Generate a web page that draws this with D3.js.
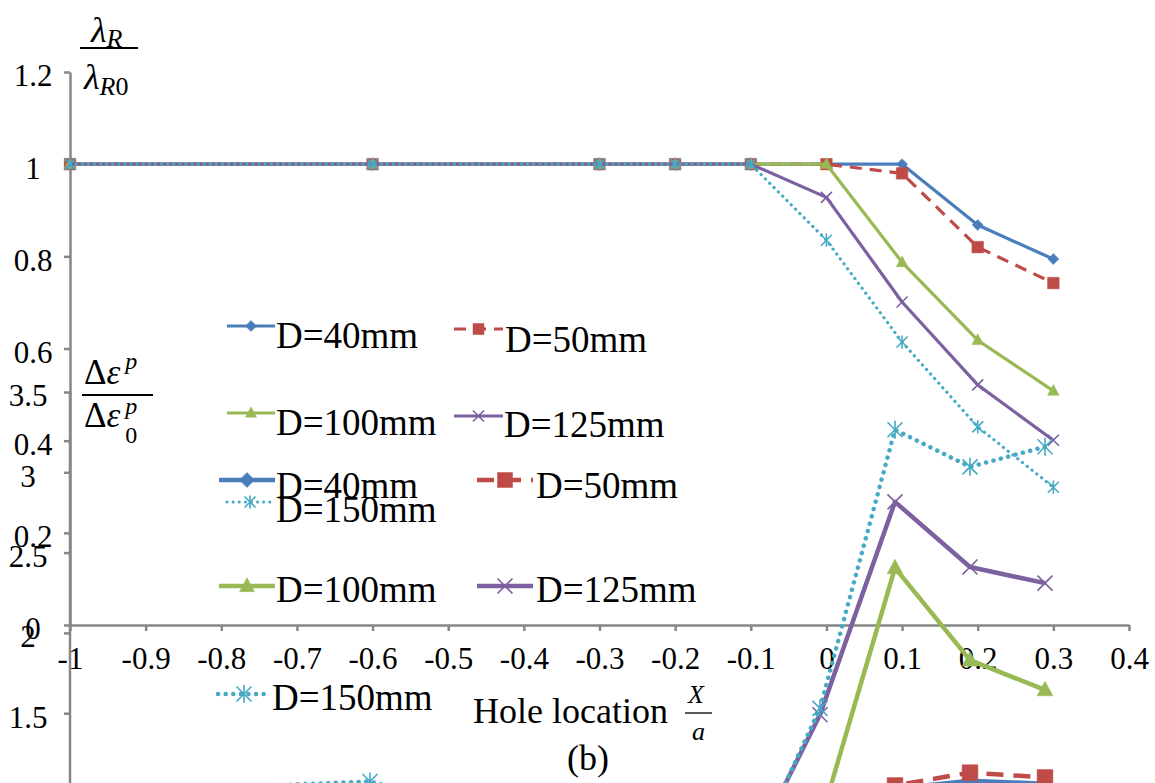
<!DOCTYPE html>
<html>
<head>
<meta charset="utf-8">
<style>
body { margin: 0; background: #fff; }
.axis line, .axis path { stroke: #868686; stroke-width: 2.5; }
</style>
<script src="https://d3js.org/d3.v7.min.js"></script>
</head>
<body>
<script>
// hole positions X/a, shared by both plots
var xVals = [-1, -0.6, -0.3, -0.2, -0.1, 0, 0.1, 0.2, 0.3];
var seriesNames = ["D=40mm", "D=50mm", "D=100mm", "D=125mm", "D=150mm"];

// upper plot: lambda_R / lambda_R0
var lamD40  = [1, 1, 1, 1, 1, 1, 1, 0.868, 0.794];
var lamD50  = [1, 1, 1, 1, 1, 1, 0.98, 0.82, 0.742];
var lamD100 = [1, 1, 1, 1, 1, 1, 0.787, 0.618, 0.508];
var lamD125 = [1, 1, 1, 1, 1, 0.928, 0.701, 0.521, 0.401];
var lamD150 = [1, 1, 1, 1, 1, 0.835, 0.614, 0.43, 0.299];

// lower plot (overlapping): delta eps^p / delta eps0^p
var epsD40  = [1, 1, 1, 1, 1, 1, 1.03, 1.08, 1.06];
var epsD50  = [1, 1, 1, 1, 1, 1, 1.05, 1.13, 1.1];
var epsD100 = [1, 1, 1, 1, 1, 0.82, 2.405, 1.83, 1.645];
var epsD125 = [1, 1, 1, 1, 0.56, 1.49, 2.816, 2.41, 2.31];
var epsD150 = [1, 1.075, 0.7, 0.65, 0.52, 1.53, 3.265, 3.034, 3.159];

var lamTicksY = [0, 0.2, 0.4, 0.6, 0.8, 1, 1.2];
var epsTicksY = [1.5, 2, 2.5, 3, 3.5];
var ticksX = d3.range(-10, 5).map(function(i){ return i / 10; });

var lamData = [lamD40, lamD50, lamD100, lamD125, lamD150];
var epsData = [epsD40, epsD50, epsD100, epsD125, epsD150];

var styles = [
    {color: "#4A7EBB", marker: "diamond", dash: null},
    {color: "#BE4B48", marker: "square", dash: "dash"},
    {color: "#98B954", marker: "triangle", dash: null},
    {color: "#7D60A0", marker: "x", dash: null},
    {color: "#46AAC5", marker: "star", dash: "dot"}
];

var FONT = "'Liberation Serif'";
var w = 1155, h = 783;
var svg = d3.select("body").append("svg").attr("width", w).attr("height", h);

var x1 = d3.scaleLinear().domain([-1, 0.4]).range([70, 1129]);
var y1 = d3.scaleLinear().domain([0, 1.2]).range([625, 72]);
var x2 = d3.scaleLinear().domain([-1, 0.4]).range([70, 1120]);
var y2 = d3.scaleLinear().domain([1, 3.5]).range([793.5, 392]);

// plain hyphen for negatives, like the original
var fmt = function(d){ return d3.format("~g")(d).replace("\u2212", "-"); };

function markerPath(type, r) {
    switch (type) {
    case "diamond": return "M0," + (-r) + "L" + r + ",0L0," + r + "L" + (-r) + ",0Z";
    case "square": return "M" + (-r) + "," + (-r) + "h" + 2*r + "v" + 2*r + "h" + (-2*r) + "Z";
    case "triangle": return "M0," + (-r*1.1) + "L" + r + "," + (r*0.75) + "L" + (-r) + "," + (r*0.75) + "Z";
    case "x": return "M" + (-r) + "," + (-r) + "L" + r + "," + r + "M" + (-r) + "," + r + "L" + r + "," + (-r);
    case "star": return "M" + (-r) + "," + (-r) + "L" + r + "," + r + "M" + (-r) + "," + r + "L" + r + "," + (-r) + "M0," + (-r*1.2) + "L0," + (r*1.2);
    }
}

function drawMarker(g, st, cx, cy, r) {
    var open = st.marker == "x" || st.marker == "star";
    g.append("path")
        .attr("transform", "translate(" + cx + "," + cy + ")")
        .attr("d", markerPath(st.marker, r))
        .attr("fill", open ? "none" : st.color)
        .attr("stroke", st.color)
        .attr("stroke-width", open ? 1.6 : 0.5);
}

function styleLine(sel, st, lw, big) {
    sel.attr("fill", "none")
        .attr("stroke", st.color)
        .attr("stroke-width", lw)
        .attr("stroke-linejoin", "round");
    if (st.dash == "dash") sel.attr("stroke-dasharray", big ? "17,10" : "12,8");
    if (st.dash == "dot") sel.attr("stroke-dasharray", big ? "0.1,7.5" : "0.1,6").attr("stroke-linecap", "round");
}

// draw one plot: series lines + markers
function drawPlot(g, data, xs, ys, lw, mr, big) {
    data.forEach(function(vals, i) {
        var st = styles[i];
        var pts = xVals.map(function(x, j){ return [x, vals[j]]; });
        var line = d3.line().x(function(d){ return xs(d[0]); }).y(function(d){ return ys(d[1]); });
        g.append("path").datum(pts).attr("d", line).call(styleLine, st, lw, big);
        var mg = g.append("g");
        var rr = (st.marker == "square" || st.marker == "triangle") ? mr * 1.05 : mr;
        pts.forEach(function(p){ drawMarker(mg, st, xs(p[0]), ys(p[1]), rr); });
    });
}

function txt(g, x, y, size) {
    return g.append("text").attr("x", x).attr("y", y)
        .style("font-family", FONT).style("font-size", size + "px").attr("fill", "#000");
}

function drawLegend(g, items, lw, mr, big) {
    items.forEach(function(it) {
        var st = styles[it.s];
        g.append("line").attr("x1", it.x0).attr("x2", it.x1).attr("y1", it.ly).attr("y2", it.ly)
            .call(styleLine, st, lw, big);
        drawMarker(g, st, (it.x0 + it.x1) / 2, it.ly, mr);
        txt(g, it.tx, it.ty, 37).text(seriesNames[it.s]);
    });
}

function styleTicks(ax) {
    ax.attr("font-family", null).attr("font-size", null);
    ax.selectAll("text").style("font-family", FONT).style("font-size", "31px").attr("fill", "#000");
}

// ---------- upper plot axes ----------
var gA1 = svg.append("g");
var yAxis1 = gA1.append("g").attr("class", "axis").attr("transform", "translate(70,0)")
    .call(d3.axisLeft(y1).tickValues(lamTicksY).tickSize(6).tickSizeOuter(0).tickFormat(fmt));
styleTicks(yAxis1);
yAxis1.selectAll("text").attr("text-anchor", "middle").attr("x", -37).attr("dy", "0.45em");

var xAxis1 = gA1.append("g").attr("class", "axis").attr("transform", "translate(0,625)")
    .call(d3.axisBottom(x1).tickValues(ticksX).tickSize(6).tickSizeOuter(0).tickFormat(fmt));
styleTicks(xAxis1);
xAxis1.selectAll("text").attr("y", 44).attr("dy", 0);

// ---------- lower plot y axis ----------
var yAxis2 = svg.append("g").attr("class", "axis").attr("transform", "translate(70,0)")
    .call(d3.axisLeft(y2).tickValues(epsTicksY).tickSize(6).tickSizeOuter(0).tickFormat(fmt));
styleTicks(yAxis2);
yAxis2.select(".domain").attr("d", "M0,392V800");
yAxis2.selectAll("text").attr("text-anchor", "middle").attr("x", -42).attr("dy", "0.45em");

// ---------- titles ----------
var t = svg.append("g");
txt(t, 91, 42, 36).style("font-style", "italic")
    .html('λ<tspan font-size="26" dy="5">R</tspan>');
t.append("line").attr("x1", 80).attr("x2", 138).attr("y1", 48).attr("y2", 48).attr("stroke", "#000").attr("stroke-width", 1.8);
txt(t, 84, 89, 36).style("font-style", "italic")
    .html('λ<tspan font-size="26" dy="6">R</tspan><tspan font-size="26" font-style="normal">0</tspan>');

txt(t, 84, 384, 35)
    .html('Δ<tspan font-style="italic">ε</tspan><tspan font-style="italic" font-size="24" dx="5" dy="-15">p</tspan>');
t.append("line").attr("x1", 82).attr("x2", 153).attr("y1", 395).attr("y2", 395).attr("stroke", "#000").attr("stroke-width", 1.8);
txt(t, 84, 427, 35)
    .html('Δ<tspan font-style="italic">ε</tspan><tspan font-style="italic" font-size="24" dx="5" dy="-13">p</tspan><tspan font-size="24" dx="-12" dy="29">0</tspan>');

txt(t, 473, 723, 36).text("Hole location");
txt(t, 688, 703, 26).style("font-style", "italic").text("X");
t.append("line").attr("x1", 685).attr("x2", 712).attr("y1", 713).attr("y2", 713).attr("stroke", "#000").attr("stroke-width", 1.3);
txt(t, 692, 740, 26).style("font-style", "italic").text("a");
txt(t, 588, 770, 36).attr("text-anchor", "middle").text("(b)");

// ---------- upper plot ----------
var g1 = svg.append("g");
drawPlot(g1, lamData, x1, y1, 3.2, 5.5, false);
drawLegend(g1, [
    {s: 0, x0: 227, x1: 275, ly: 326, tx: 276, ty: 348},
    {s: 1, x0: 454, x1: 503, ly: 329, tx: 505, ty: 352},
    {s: 2, x0: 227, x1: 275, ly: 413, tx: 276, ty: 435},
    {s: 3, x0: 454, x1: 503, ly: 416, tx: 504, ty: 437},
    {s: 4, x0: 227, x1: 273, ly: 502, tx: 276, ty: 522}
], 3, 5.5, false);

// ---------- lower plot ----------
var g2 = svg.append("g");
drawPlot(g2, epsData, x2, y2, 4.5, 7.5, true);
drawLegend(g2, [
    {s: 0, x0: 219, x1: 275, ly: 480, tx: 276, ty: 498},
    {s: 1, x0: 477, x1: 533, ly: 480, tx: 536, ty: 498},
    {s: 2, x0: 219, x1: 275, ly: 586, tx: 276, ty: 602},
    {s: 3, x0: 477, x1: 533, ly: 586, tx: 536, ty: 602},
    {s: 4, x0: 218, x1: 270, ly: 694, tx: 272, ty: 710}
], 4.5, 7.5, true);
</script>
</body>
</html>
